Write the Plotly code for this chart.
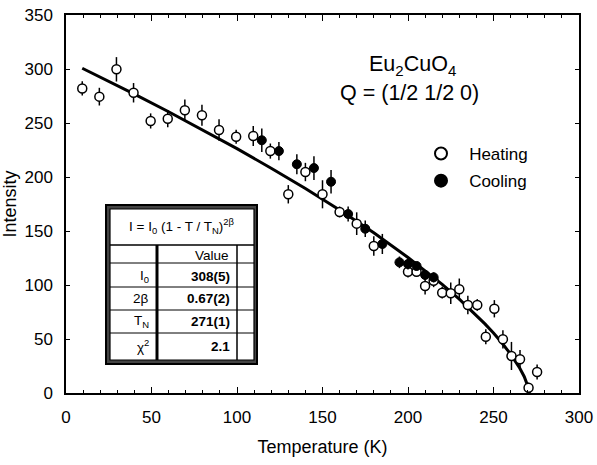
import plotly.graph_objects as go

# ---- data ----
heat_T = [9.5, 19.5, 29.5, 39.5, 49.5, 59.5, 69.5, 79.5, 89.5, 99.5, 109.5, 119.5,
          130, 140, 150, 160, 170, 180, 200, 205, 210, 215, 220, 225, 230, 235,
          240.5, 245.5, 250.5, 255.5, 260.5, 265.5, 270.5, 275.5]
heat_I = [282, 274.4, 299.7, 278, 251.9, 254, 261.8, 257.1, 243.5, 237.3, 238, 224,
          184, 204.6, 184, 167.6, 156.8, 136.1, 112.3, 112.3, 99, 104, 92.9, 92.3, 96, 81.5,
          81.5, 52.1, 78, 49.7, 34.3, 31.2, 4.9, 19.4]
heat_err = [6.6, 8.2, 11.3, 9, 7, 8, 10, 9.7, 10, 6.5, 9.3, 7,
            8.5, 8.5, 13, 5, 10.5, 9, 5.4, 4.6, 7.7, 6, 5.4, 10, 10, 8.5,
            5.4, 7, 8, 8.5, 13, 8.5, 4.6, 7]

cool_T = [114.5, 124.5, 135, 145, 155, 165, 175, 185, 195, 200, 205, 210, 215]
cool_I = [234, 224, 211.8, 208.3, 195.6, 165.7, 152.1, 138, 121, 119.4, 117.6, 109.3, 107.1]
cool_err = [10.8, 8.5, 9.3, 11, 10.8, 7, 7.7, 9.3, 5.4, 5, 4, 4.6, 4.6]

fit_T = [9.5, 20, 40, 60, 80, 100, 120, 140, 160, 180, 200, 210, 220, 230, 240, 245,
         250, 255, 260, 265, 268, 269, 270, 270.5, 271]
fit_I = [300.7, 292.6, 276.7, 260.4, 243.6, 226.3, 208.1, 189.3, 169.4, 148.3, 125.5, 113.4,
         100.6, 86.9, 72.1, 64.0, 55.5, 46.3, 36.0, 24.0, 15.1, 11.5, 7.2, 4.5, 0]

x_ticks = [0, 50, 100, 150, 200, 250, 300]
y_ticks = [0, 50, 100, 150, 200, 250, 300, 350]

table_rows = ["I<sub>0</sub>", "2β", "T<sub>N</sub>", "χ<sup>2</sup>"]
table_vals = ["308(5)", "0.67(2)", "271(1)", "2.1"]

FONT = "Liberation Sans, Arial, Helvetica, sans-serif"

# plot area in pixels
L, R, T, B = 66, 579, 15, 393
W, H = 597, 465


def px(x):
    return (x - L) / (R - L)


def py(y):
    return (B - y) / (B - T)


fig = go.Figure()

fig.add_trace(go.Scatter(
    x=fit_T, y=fit_I, mode="lines", line=dict(color="black", width=3),
    showlegend=False, hoverinfo="skip"))

fig.add_trace(go.Scatter(
    x=heat_T, y=heat_I, mode="markers", name="\u00a0\u2009Heating", legendgroup="h",
    marker=dict(symbol="circle", size=9, color="white", line=dict(color="black", width=1.5)),
    error_y=dict(type="data", array=heat_err, color="black", thickness=1.5, width=0)))

fig.add_trace(go.Scatter(
    x=cool_T, y=cool_I, mode="markers", name="\u00a0\u2009Cooling", legendgroup="c",
    marker=dict(symbol="circle", size=9, color="black", line=dict(color="black", width=1)),
    error_y=dict(type="data", array=cool_err, color="black", thickness=1.5, width=0)))

shapes = []
# table frame
shapes.append(dict(type="rect", xref="paper", yref="paper",
                   x0=px(106), x1=px(257), y0=py(364), y1=py(205),
                   line=dict(color="black", width=2), fillcolor="#444444", layer="above"))
shapes.append(dict(type="rect", xref="paper", yref="paper",
                   x0=px(110), x1=px(254), y0=py(360), y1=py(209),
                   line=dict(color="black", width=1.2), fillcolor="white", layer="above"))
for yy in [245, 263, 287, 310, 333]:
    shapes.append(dict(type="line", xref="paper", yref="paper",
                       x0=px(110), x1=px(254), y0=py(yy), y1=py(yy),
                       line=dict(color="black", width=1.5 if yy == 245 else 1), layer="above"))
shapes.append(dict(type="line", xref="paper", yref="paper",
                   x0=px(157), x1=px(157), y0=py(245), y1=py(360),
                   line=dict(color="black", width=3), layer="above"))
shapes.append(dict(type="line", xref="paper", yref="paper",
                   x0=px(237), x1=px(237), y0=py(245), y1=py(360),
                   line=dict(color="black", width=1.5), layer="above"))

TF = 13.5
annotations = []
annotations.append(dict(xref="paper", yref="paper", x=px(181), y=py(226),
                        text="I = I<sub>0</sub> (1 - T / T<sub>N</sub>)<sup>2β</sup>",
                        showarrow=False, xanchor="center", yanchor="middle",
                        font=dict(family=FONT, size=TF, color="black")))
annotations.append(dict(xref="paper", yref="paper", x=px(231), y=py(255),
                        text="Value", showarrow=False, xanchor="right", yanchor="middle",
                        font=dict(family=FONT, size=TF, color="black")))
row_y = [276, 298, 321, 346]
for lab, val, yy in zip(table_rows, table_vals, row_y):
    annotations.append(dict(xref="paper", yref="paper", x=px(151), y=py(yy),
                            text=lab, showarrow=False, xanchor="right", yanchor="middle",
                            font=dict(family=FONT, size=TF, color="black")))
    annotations.append(dict(xref="paper", yref="paper", x=px(232), y=py(yy),
                            text="<b>" + val + "</b>", showarrow=False, xanchor="right",
                            yanchor="middle",
                            font=dict(family=FONT, size=TF, color="black")))

annotations.append(dict(xref="paper", yref="paper", x=px(412), y=py(66),
                        text="Eu<sub>2</sub>CuO<sub>4</sub>", showarrow=False,
                        xanchor="center", yanchor="middle",
                        font=dict(family=FONT, size=21.5, color="black")))
annotations.append(dict(xref="paper", yref="paper", x=px(409), y=py(93),
                        text="Q = (1/2 1/2 0)", showarrow=False,
                        xanchor="center", yanchor="middle",
                        font=dict(family=FONT, size=21.5, color="black")))

fig.update_layout(
    width=W, height=H,
    margin=dict(l=L, r=W - R, t=T, b=H - B),
    paper_bgcolor="white", plot_bgcolor="white",
    font=dict(family=FONT, size=17, color="black"),
    shapes=shapes, annotations=annotations,
    legend=dict(x=px(421), y=py(136), xanchor="left", yanchor="top",
                bgcolor="rgba(0,0,0,0)", font=dict(family=FONT, size=17),
                tracegroupgap=2, itemsizing="constant"),
    xaxis=dict(range=[0, 300], tickvals=x_ticks, ticks="inside", ticklen=6,
               tickwidth=1.2, tickcolor="black", showline=True, linecolor="black",
               linewidth=1.5, mirror="ticks", showgrid=False, zeroline=False,
               automargin=False,
               minor=dict(dtick=10, ticks="inside", ticklen=3, tickcolor="black",
                          showgrid=False),
               title=dict(text="Temperature (K)", font=dict(size=18), standoff=14),
               ticklabelstandoff=8),
    yaxis=dict(range=[0, 350], tickvals=y_ticks, ticks="inside", ticklen=4,
               tickwidth=1.2, tickcolor="black", showline=True, linecolor="black",
               linewidth=1.5, mirror="ticks", showgrid=False, zeroline=False,
               automargin=False,
               title=dict(text="Intensity", font=dict(size=18), standoff=3),
               ticklabelstandoff=8),
)

fig.write_html("out.html")
